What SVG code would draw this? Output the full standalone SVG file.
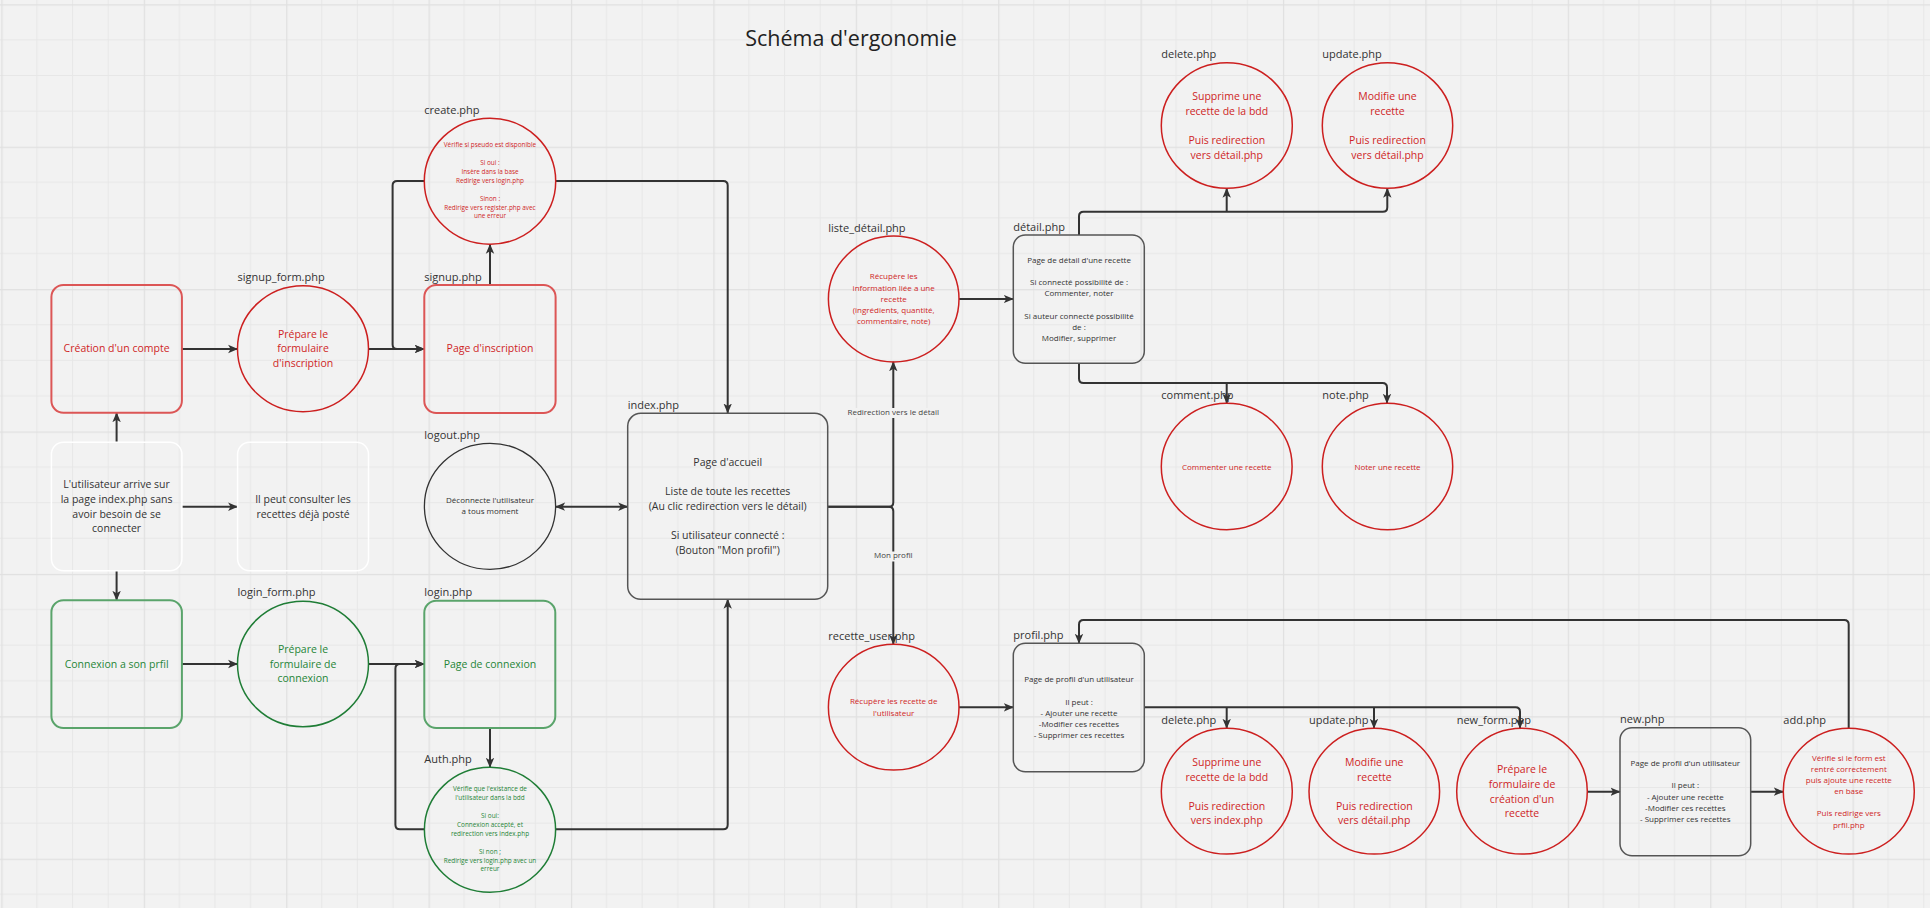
<svg xmlns="http://www.w3.org/2000/svg" width="1930" height="908" viewBox="0 0 1930 908">
<style>
text{font-family:"Open Sans","Noto Sans","Liberation Sans",sans-serif}
.lbl{font-size:11px;fill:#333}
.t{font-size:10.5px;text-anchor:middle}
.s{font-size:8px;text-anchor:middle}
.xs{font-size:6.4px;text-anchor:middle}
.red{fill:#cf1f26}
.grn{fill:#1f8537}
.blk{fill:#333}
.cred{fill:none;stroke:#cc1f1f;stroke-width:1.5}
.rred{fill:none;stroke:#dc5656;stroke-width:2}
.cgrn{fill:none;stroke:#1f7d36;stroke-width:1.5}
.rgrn{fill:none;stroke:#5aa46b;stroke-width:2}
.rblk{fill:none;stroke:#555;stroke-width:1.5}
.cblk{fill:none;stroke:#333;stroke-width:1.3}
.rwht{fill:none;stroke:#fff;stroke-width:1.5}
.c{fill:none;stroke:#333;stroke-width:2}
.a{marker-end:url(#ah)}
.clbl{font-size:8px;text-anchor:middle;fill:#444}
</style>
<defs>
<marker id="ah" viewBox="0 0 10 10" refX="9.5" refY="5" markerWidth="10" markerHeight="10" markerUnits="userSpaceOnUse" orient="auto-start-reverse">
<path d="M0,0.8 L10,5 L0,9.2 L2.5,5 z" fill="#333"/>
</marker>
<pattern id="grid" x="1.35" y="4.3" width="142.4" height="142.4" patternUnits="userSpaceOnUse">
<path d="M35.6,0V142.4M71.2,0V142.4M106.8,0V142.4M0,35.6H142.4M0,71.2H142.4M0,106.8H142.4" stroke="#e7e7e7" stroke-width="1" fill="none"/>
<path d="M0.5,0V142.4M0,0.5H142.4" stroke="#e0e0e0" stroke-width="1.5" fill="none"/>
</pattern>
</defs>
<rect width="1930" height="908" fill="#f2f2f2"/>
<rect width="1930" height="908" fill="url(#grid)"/>

<text x="851" y="45.5" font-size="21.5" text-anchor="middle" fill="#222">Schéma d'ergonomie</text>

<g id="connectors">
<path class="c a" d="M182,349 H237.6"/>
<path class="c a" d="M368.5,349 H424.3"/>
<path class="c a" d="M424.3,181 H397.1 Q392.6,181 392.6,185.5 V344.5 Q392.6,349 397.1,349 H424.3"/>
<path class="c a" d="M490,285 V244.3"/>
<path class="c a" d="M555.7,181 H723.2 Q727.7,181 727.7,185.5 V413"/>
<path class="c a" d="M116.6,442.3 V412.7"/>
<path class="c a" d="M182,506.7 H237.6"/>
<path class="c a" d="M116.6,570.7 V600.3"/>
<path class="c a" d="M182,664 H237.6"/>
<path class="c a" d="M368.5,664 H424.3"/>
<path class="c a" d="M424.3,829.3 H399.9 Q395.4,829.3 395.4,824.8 V668.5 Q395.4,664 399.9,664 H424.3"/>
<path class="c a" d="M490,728 V767.3"/>
<path class="c a" d="M555.6,829.3 H723.2 Q727.7,829.3 727.7,824.8 V599.3"/>
<path class="c a" d="M555.6,506.7 H627.7" marker-start="url(#ah)"/>
<path class="c a" d="M827.7,506.7 H888.8 Q893.3,506.7 893.3,502.2 V361.8"/>
<path class="c a" d="M827.7,506.7 H888.8 Q893.3,506.7 893.3,511.2 V644.3"/>
<rect x="846" y="408" width="95" height="10" fill="#f2f2f2"/>
<text class="clbl" x="893.3" y="414.9">Redirection vers le détail</text>
<rect x="873" y="551.5" width="41" height="10" fill="#f2f2f2"/>
<text class="clbl" x="893.3" y="558.2">Mon profil</text>
<path class="c a" d="M959,299 H1013.3"/>
<path class="c a" d="M1079,235 V216.2 Q1079,211.7 1083.5,211.7 H1382.8 Q1387.3,211.7 1387.3,207.2 V188.3"/>
<path class="c a" d="M1226.7,211.7 V188.3"/>
<path class="c a" d="M1079,363.3 V378.5 Q1079,383 1083.5,383 H1382.5 Q1387,383 1387,387.5 V403.3"/>
<path class="c a" d="M1226.7,383 V403.3"/>
<path class="c a" d="M959,707.3 H1013.3"/>
<path class="c a" d="M1144.3,707.3 H1515.5 Q1520,707.3 1520,711.8 V728.3"/>
<path class="c a" d="M1226.7,707.3 V728.3"/>
<path class="c a" d="M1374,707.3 V728.3"/>
<path class="c a" d="M1587.3,791.7 H1620"/>
<path class="c a" d="M1750.7,791.7 H1783.3"/>
<path class="c a" d="M1848.7,728.3 V624.5 Q1848.7,620 1844.2,620 H1083.5 Q1079,620 1079,624.5 V643.3"/>
</g>

<g id="n-creation">
<rect class="rred" x="51.4" y="285" width="130.5" height="127.7" rx="12"/>
<text class="t red" x="116.6" y="352">Création d'un compte</text>
</g>

<g id="n-signup-form">
<text class="lbl" x="237.6" y="281">signup_form.php</text>
<ellipse class="cred" cx="303" cy="348.7" rx="65.5" ry="63"/>
<text class="t red"><tspan x="303" y="337.8">Prépare le</tspan><tspan x="303" y="352">formulaire</tspan><tspan x="303" y="366.8">d'inscription</tspan></text>
</g>

<g id="n-signup">
<text class="lbl" x="424.3" y="280.5">signup.php</text>
<rect class="rred" x="424.3" y="285" width="131.3" height="128" rx="12"/>
<text class="t red" x="490" y="352">Page d'inscription</text>
</g>

<g id="n-create">
<text class="lbl" x="424.3" y="113.5">create.php</text>
<ellipse class="cred" cx="490" cy="181.2" rx="65.7" ry="63"/>
<text class="xs red"><tspan x="490" y="147.4">Vérifie si pseudo est disponible</tspan><tspan x="490" y="165">Si oui :</tspan><tspan x="490" y="174">Insère dans la base</tspan><tspan x="490" y="183">Redirige vers login.php</tspan><tspan x="490" y="200.7">Sinon :</tspan><tspan x="490" y="209.7">Redirige vers register.php avec</tspan><tspan x="490" y="218.4">une erreur</tspan></text>
</g>

<g id="n-user">
<rect class="rwht" x="51.4" y="442.3" width="130.5" height="128.4" rx="12"/>
<text class="t blk"><tspan x="116.6" y="488">L'utilisateur arrive sur</tspan><tspan x="116.6" y="502.8">la page index.php sans</tspan><tspan x="116.6" y="517.5">avoir besoin de se</tspan><tspan x="116.6" y="532">connecter</tspan></text>
</g>

<g id="n-consult">
<rect class="rwht" x="237.6" y="442.3" width="130.9" height="128.4" rx="12"/>
<text class="t blk"><tspan x="303" y="502.8">Il peut consulter les</tspan><tspan x="303" y="517.5">recettes déjà posté</tspan></text>
</g>

<g id="n-logout">
<text class="lbl" x="424.3" y="438.5">logout.php</text>
<ellipse class="cblk" cx="490" cy="506.3" rx="65.6" ry="63"/>
<text class="s blk"><tspan x="490" y="503.2">Déconnecte l'utilisateur</tspan><tspan x="490" y="514.2">a tous moment</tspan></text>
</g>

<g id="n-connexion">
<rect class="rgrn" x="51.4" y="600.3" width="130.5" height="127.7" rx="12"/>
<text class="t grn" x="116.6" y="667.5">Connexion a son prfil</text>
</g>

<g id="n-login-form">
<text class="lbl" x="237.6" y="596.3">login_form.php</text>
<ellipse class="cgrn" cx="303" cy="664" rx="65.5" ry="62.7"/>
<text class="t grn"><tspan x="303" y="652.8">Prépare le</tspan><tspan x="303" y="667.5">formulaire de</tspan><tspan x="303" y="682">connexion</tspan></text>
</g>

<g id="n-login">
<text class="lbl" x="424.3" y="596">login.php</text>
<rect class="rgrn" x="424.3" y="600.7" width="131" height="127.3" rx="12"/>
<text class="t grn" x="490" y="667.5">Page de connexion</text>
</g>

<g id="n-auth">
<text class="lbl" x="424.3" y="762.7">Auth.php</text>
<ellipse class="cgrn" cx="490" cy="829.8" rx="65.6" ry="62.5"/>
<text class="xs grn"><tspan x="490" y="791">Vérifie que l'existance de</tspan><tspan x="490" y="800.4">l'utilisateur dans la bdd</tspan><tspan x="490" y="818">Si oui:</tspan><tspan x="490" y="827">Connexion accepté, et</tspan><tspan x="490" y="836">redirection vers index.php</tspan><tspan x="490" y="853.7">Si non ;</tspan><tspan x="490" y="862.7">Redirige vers login.php avec un</tspan><tspan x="490" y="871.4">erreur</tspan></text>
</g>

<g id="n-index">
<text class="lbl" x="627.7" y="408.7">index.php</text>
<rect class="rblk" x="627.7" y="413.3" width="200" height="186" rx="13"/>
<text class="t blk"><tspan x="727.7" y="465.8">Page d'accueil</tspan><tspan x="727.7" y="494.8">Liste de toute les recettes</tspan><tspan x="727.7" y="509.8">(Au clic redirection vers le détail)</tspan><tspan x="727.7" y="538.8">Si utilisateur connecté :</tspan><tspan x="727.7" y="553.8">(Bouton "Mon profil")</tspan></text>
</g>

<g id="n-liste-detail">
<text class="lbl" x="828.3" y="231.5">liste_détail.php</text>
<ellipse class="cred" cx="893.7" cy="299" rx="65.3" ry="63"/>
<text class="s red"><tspan x="893.7" y="279.2">Récupère les</tspan><tspan x="893.7" y="290.5">information liée a une</tspan><tspan x="893.7" y="301.9">recette</tspan><tspan x="893.7" y="312.9">(ingrédients, quantité,</tspan><tspan x="893.7" y="324.2">commentaire, note)</tspan></text>
</g>

<g id="n-detail">
<text class="lbl" x="1013.3" y="230.7">détail.php</text>
<rect class="rblk" x="1013.3" y="235" width="131" height="128.3" rx="12"/>
<text class="s blk"><tspan x="1079" y="262.9">Page de détail d'une recette</tspan><tspan x="1079" y="285.2">Si connecté possibilité de :</tspan><tspan x="1079" y="296.2">Commenter, noter</tspan><tspan x="1079" y="318.5">Si auteur connecté possibilité</tspan><tspan x="1079" y="329.5">de :</tspan><tspan x="1079" y="340.5">Modifier, supprimer</tspan></text>
</g>

<g id="n-delete-top">
<text class="lbl" x="1161.3" y="58.2">delete.php</text>
<ellipse class="cred" cx="1226.8" cy="125.5" rx="65.5" ry="62.8"/>
<text class="t red"><tspan x="1226.8" y="100.1">Supprime une</tspan><tspan x="1226.8" y="114.8">recette de la bdd</tspan><tspan x="1226.8" y="144.1">Puis redirection</tspan><tspan x="1226.8" y="158.8">vers détail.php</tspan></text>
</g>

<g id="n-update-top">
<text class="lbl" x="1322.3" y="58.2">update.php</text>
<ellipse class="cred" cx="1387.5" cy="125.5" rx="65.2" ry="62.8"/>
<text class="t red"><tspan x="1387.5" y="100.1">Modifie une</tspan><tspan x="1387.5" y="114.8">recette</tspan><tspan x="1387.5" y="144.1">Puis redirection</tspan><tspan x="1387.5" y="158.8">vers détail.php</tspan></text>
</g>

<g id="n-comment">
<text class="lbl" x="1161.3" y="398.8">comment.php</text>
<ellipse class="cred" cx="1226.7" cy="466.5" rx="65.4" ry="63.2"/>
<text class="s red" x="1226.7" y="469.9">Commenter une recette</text>
</g>

<g id="n-note">
<text class="lbl" x="1322.3" y="398.8">note.php</text>
<ellipse class="cred" cx="1387.5" cy="466.5" rx="65.2" ry="63.2"/>
<text class="s red" x="1387.5" y="469.9">Noter une recette</text>
</g>

<g id="n-recette-user">
<text class="lbl" x="828.3" y="639.5">recette_user.php</text>
<ellipse class="cred" cx="893.7" cy="707.2" rx="65.3" ry="62.9"/>
<text class="s red"><tspan x="893.7" y="704.2">Récupère les recette de</tspan><tspan x="893.7" y="715.5">l'utilisateur</tspan></text>
</g>

<g id="n-profil">
<text class="lbl" x="1013.3" y="639">profil.php</text>
<rect class="rblk" x="1013.3" y="643.3" width="131" height="128.4" rx="12"/>
<text class="s blk"><tspan x="1079" y="682.2">Page de profil d'un utilisateur</tspan><tspan x="1079" y="704.5">Il peut :</tspan><tspan x="1079" y="715.5">- Ajouter une recette</tspan><tspan x="1079" y="726.9">-Modifier ces recettes</tspan><tspan x="1079" y="737.9">- Supprimer ces recettes</tspan></text>
</g>

<g id="n-delete-bottom">
<text class="lbl" x="1161.3" y="724">delete.php</text>
<ellipse class="cred" cx="1226.8" cy="791.2" rx="65.5" ry="62.9"/>
<text class="t red"><tspan x="1226.8" y="766.1">Supprime une</tspan><tspan x="1226.8" y="780.5">recette de la bdd</tspan><tspan x="1226.8" y="809.8">Puis redirection</tspan><tspan x="1226.8" y="824.1">vers index.php</tspan></text>
</g>

<g id="n-update-bottom">
<text class="lbl" x="1309" y="724">update.php</text>
<ellipse class="cred" cx="1374.3" cy="791.2" rx="65.3" ry="62.9"/>
<text class="t red"><tspan x="1374.3" y="766.1">Modifie une</tspan><tspan x="1374.3" y="780.5">recette</tspan><tspan x="1374.3" y="809.8">Puis redirection</tspan><tspan x="1374.3" y="824.1">vers détail.php</tspan></text>
</g>

<g id="n-new-form">
<text class="lbl" x="1456.7" y="724">new_form.php</text>
<ellipse class="cred" cx="1522" cy="791.2" rx="65.3" ry="62.9"/>
<text class="t red"><tspan x="1522" y="773.1">Prépare le</tspan><tspan x="1522" y="787.8">formulaire de</tspan><tspan x="1522" y="802.5">création d'un</tspan><tspan x="1522" y="817.1">recette</tspan></text>
</g>

<g id="n-new">
<text class="lbl" x="1620" y="723.3">new.php</text>
<rect class="rblk" x="1620" y="727.7" width="130.7" height="128" rx="12"/>
<text class="s blk"><tspan x="1685.3" y="766.2">Page de profil d'un utilisateur</tspan><tspan x="1685.3" y="788.2">Il peut :</tspan><tspan x="1685.3" y="799.5">- Ajouter une recette</tspan><tspan x="1685.3" y="810.9">-Modifier ces recettes</tspan><tspan x="1685.3" y="821.9">- Supprimer ces recettes</tspan></text>
</g>

<g id="n-add">
<text class="lbl" x="1783.3" y="724">add.php</text>
<ellipse class="cred" cx="1848.8" cy="791.2" rx="65.5" ry="62.9"/>
<text class="s red"><tspan x="1848.8" y="760.9">Vérifie si le form est</tspan><tspan x="1848.8" y="771.9">rentré correctement</tspan><tspan x="1848.8" y="783.2">puis ajoute une recette</tspan><tspan x="1848.8" y="794.2">en base</tspan><tspan x="1848.8" y="816.2">Puis redirige vers</tspan><tspan x="1848.8" y="827.5">prfil.php</tspan></text>
</g>
</svg>
